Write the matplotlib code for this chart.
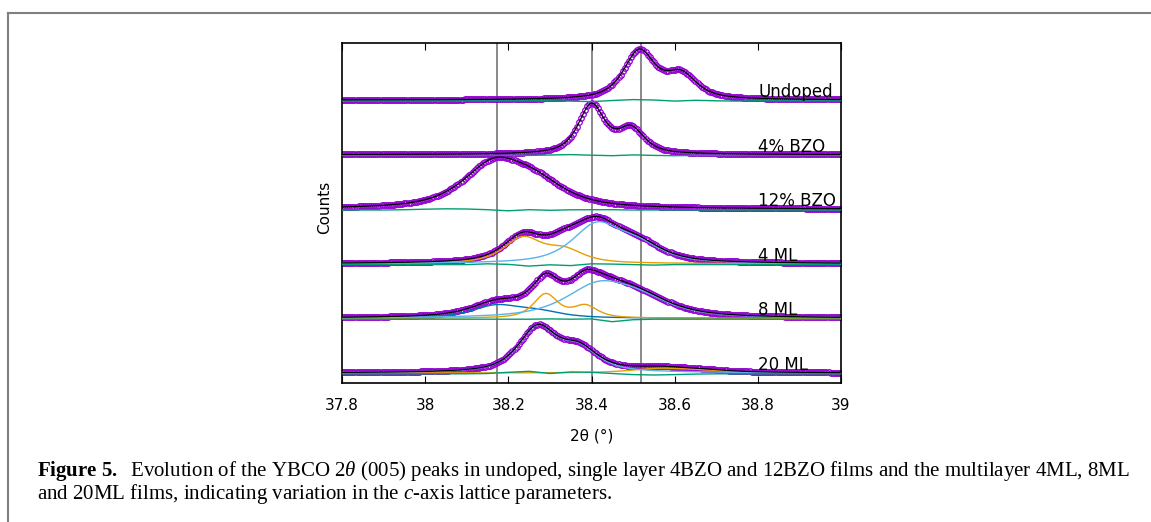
import matplotlib
matplotlib.use('Agg')
import matplotlib.pyplot as plt
from matplotlib.lines import Line2D
import numpy as np

# Peak-fit parameters: (centre 2theta, height a.u., hwhm)
# Each sample is fitted with Ka1/Ka2 doublets.
samples = ['Undoped', '4% BZO', '12% BZO', '4 ML', '8 ML', '20 ML']

undoped_peaks = [(38.515, 48.0, 0.045), (38.615, 24.0, 0.045)]
bzo4_peaks = [(38.400, 49.0, 0.038), (38.495, 24.5, 0.038)]
bzo12_peaks = [(38.165, 42.0, 0.090), (38.265, 21.0, 0.090)]

ml4_orange = [(38.235, 25.0, 0.055), (38.335, 12.5, 0.055)]
ml4_sky = [(38.412, 37.0, 0.070), (38.512, 16.0, 0.070)]

ml8_blue = [(38.170, 12.0, 0.070), (38.270, 6.0, 0.070)]
ml8_orange = [(38.290, 24.0, 0.035), (38.385, 12.0, 0.035)]
ml8_sky = [(38.415, 30.0, 0.095), (38.515, 15.0, 0.095)]

ml20_sky = [(38.270, 44.0, 0.055), (38.370, 22.0, 0.055)]
ml20_orange = [(38.560, 4.0, 0.080), (38.660, 2.0, 0.080)]

# fit residuals (a.u.), sampled every 0.05 deg
res_x = [37.80, 37.85, 37.90, 37.95, 38.00, 38.05, 38.10, 38.15, 38.20, 38.25,
         38.30, 38.35, 38.40, 38.45, 38.50, 38.55, 38.60, 38.65, 38.70, 38.75,
         38.80, 38.85, 38.90, 38.95, 39.00]
res_undoped = [0, 0, 0, 0, 0, 0, 0, 0, 0, 0, 0, -0.3, -0.8, 0.3, 1.2, 0.8, -0.3, 0.5, 0, -0.3, 0, 0, 0, 0, 0]
res_bzo4 = [0, 0, 0, 0, 0, 0, 0, 0, 0, 0, 0.4, 0.8, 0.2, -0.3, 0.5, 0, -0.3, 0, 0, 0, 0, 0, 0, 0, 0]
res_bzo12 = [0, 0, 0, 0.3, 0.8, 1.2, 1.0, 0.3, -0.8, 0.3, -0.3, 0.2, 0.3, 0.3, 0, 0, 0, 0, 0, 0, 0, 0, 0, 0, 0]
res_ml4 = [0, 0, 0, 0, 0, 0, 0, 0.8, 0.2, -1.5, -0.2, -1.0, 0.8, 0.5, 0, -0.5, 0, 0, 0, 0, 0, 0, 0, 0, 0]
res_ml8 = [0, 0, 0, 0, 0, 0, 0, 0, 0, 0, 0.3, 0, 0.3, -2.5, -0.5, 0, 0, 0, 0, 0, 0, 0, 0, 0, 0]
res_ml20 = [0, 0, 0, 0, 0, 0, 0, 0.3, 1.5, 2.5, 0.3, 1.8, 1.5, 0.3, -0.8, -1.2, -0.8, -0.3, 0, 0, 0, 0, 0, 0, 0]

# reference peak positions (vertical lines)
ref_lines = [38.172, 38.401, 38.518]

ORANGE = '#E69F00'
SKY = '#56B4E9'
BLUE = '#0072B2'
GREEN = '#009E73'
PURPLE = '#9400D3'

two_theta = np.arange(37.8, 39.0001, 0.005)


def pv(x, peaks, eta=0.7):
    y = np.zeros_like(x)
    for c, h, w in peaks:
        u2 = ((x - c) / w) ** 2
        y += h * (eta / (1 + u2) + (1 - eta) * np.exp(-np.log(2) * u2))
    return y


# top to bottom
fits = [
    (undoped_peaks, [], res_undoped),
    (bzo4_peaks, [], res_bzo4),
    (bzo12_peaks, [], res_bzo12),
    (ml4_orange + ml4_sky, [(ml4_orange, ORANGE), (ml4_sky, SKY)], res_ml4),
    (ml8_blue + ml8_orange + ml8_sky, [(ml8_blue, BLUE), (ml8_orange, ORANGE), (ml8_sky, SKY)], res_ml8),
    (ml20_sky + ml20_orange, [(ml20_orange, ORANGE), (ml20_sky, SKY)], res_ml20),
]

W, H = 1151, 522
fig = plt.figure(figsize=(W / 100, H / 100), dpi=100)
ax = fig.add_axes([342 / W, 1 - 383 / H, 499 / W, 340 / H])

step = 54.6
base0 = 10.0
n = len(samples)

for xv in ref_lines:
    ax.axvline(xv, color='#6a6a6a', lw=1.1, zorder=1)

for i, (name, (peaks, comps, res)) in enumerate(zip(samples, fits)):
    off = base0 + step * (n - 1 - i)
    model = pv(two_theta, peaks)
    ax.plot(two_theta, model + off, ls='none', marker='o', ms=4.0, mfc='none',
            mec=PURPLE, mew=0.9, zorder=2)
    for cpeaks, col in comps:
        ax.plot(two_theta, pv(two_theta, cpeaks) + off, color=col, lw=1.0, zorder=3)
    ax.plot(res_x, np.array(res) + off - 0.8, color=GREEN, lw=1.0, zorder=3)
    ax.plot(two_theta, model + off, color='black', lw=0.9, zorder=4)
    ax.text(38.801, off + 3, name, fontsize=12, va='baseline', ha='left', zorder=5)

ax.set_xlim(37.8, 39.0)
ax.set_ylim(0, 340)
ax.set_xticks([37.8, 38.0, 38.2, 38.4, 38.6, 38.8, 39.0])
ax.set_xticklabels(['37.8', '38', '38.2', '38.4', '38.6', '38.8', '39'])
ax.set_yticks([])
ax.tick_params(axis='x', direction='in', top=True, length=5, width=0.8,
               labelsize=11, pad=11)
for sp in ax.spines.values():
    sp.set_linewidth(1.2)
ax.set_xlabel('2θ (°)', fontsize=11, labelpad=11)
ax.set_ylabel('Counts', fontsize=11)
ax.yaxis.set_label_coords(-0.020, 0.516)

# page frame
fig.add_artist(Line2D([8 / W, 1], [1 - 13 / H, 1 - 13 / H], transform=fig.transFigure,
                      color='#808080', lw=1.5))
fig.add_artist(Line2D([8 / W, 8 / W], [0, 1 - 13 / H], transform=fig.transFigure,
                      color='#808080', lw=1.5))

# caption
plt.rcParams['mathtext.fontset'] = 'custom'
plt.rcParams['mathtext.rm'] = 'Liberation Serif'
plt.rcParams['mathtext.it'] = 'Liberation Serif:italic'
plt.rcParams['mathtext.bf'] = 'Liberation Serif:bold'
line1 = (r'$\mathbf{Figure\ 5.}$  Evolution of the YBCO 2$\mathit{θ}$ (005) peaks in undoped, '
         'single layer 4BZO and 12BZO films and the multilayer 4ML, 8ML')
line2 = r'and 20ML films, indicating variation in the $\mathit{c}$-axis lattice parameters.'
fs = 13.0
t1 = fig.text(37 / W, 1 - 476 / H, line1, family='Liberation Serif', fontsize=fs, va='baseline')
t2 = fig.text(37 / W, 1 - 499 / H, line2, family='Liberation Serif', fontsize=fs, va='baseline')
fig.canvas.draw()
wpx = t1.get_window_extent().width
fs = fs * 1087 / wpx
t1.set_fontsize(fs)
t2.set_fontsize(fs)

fig.savefig('out.png', dpi=100)
